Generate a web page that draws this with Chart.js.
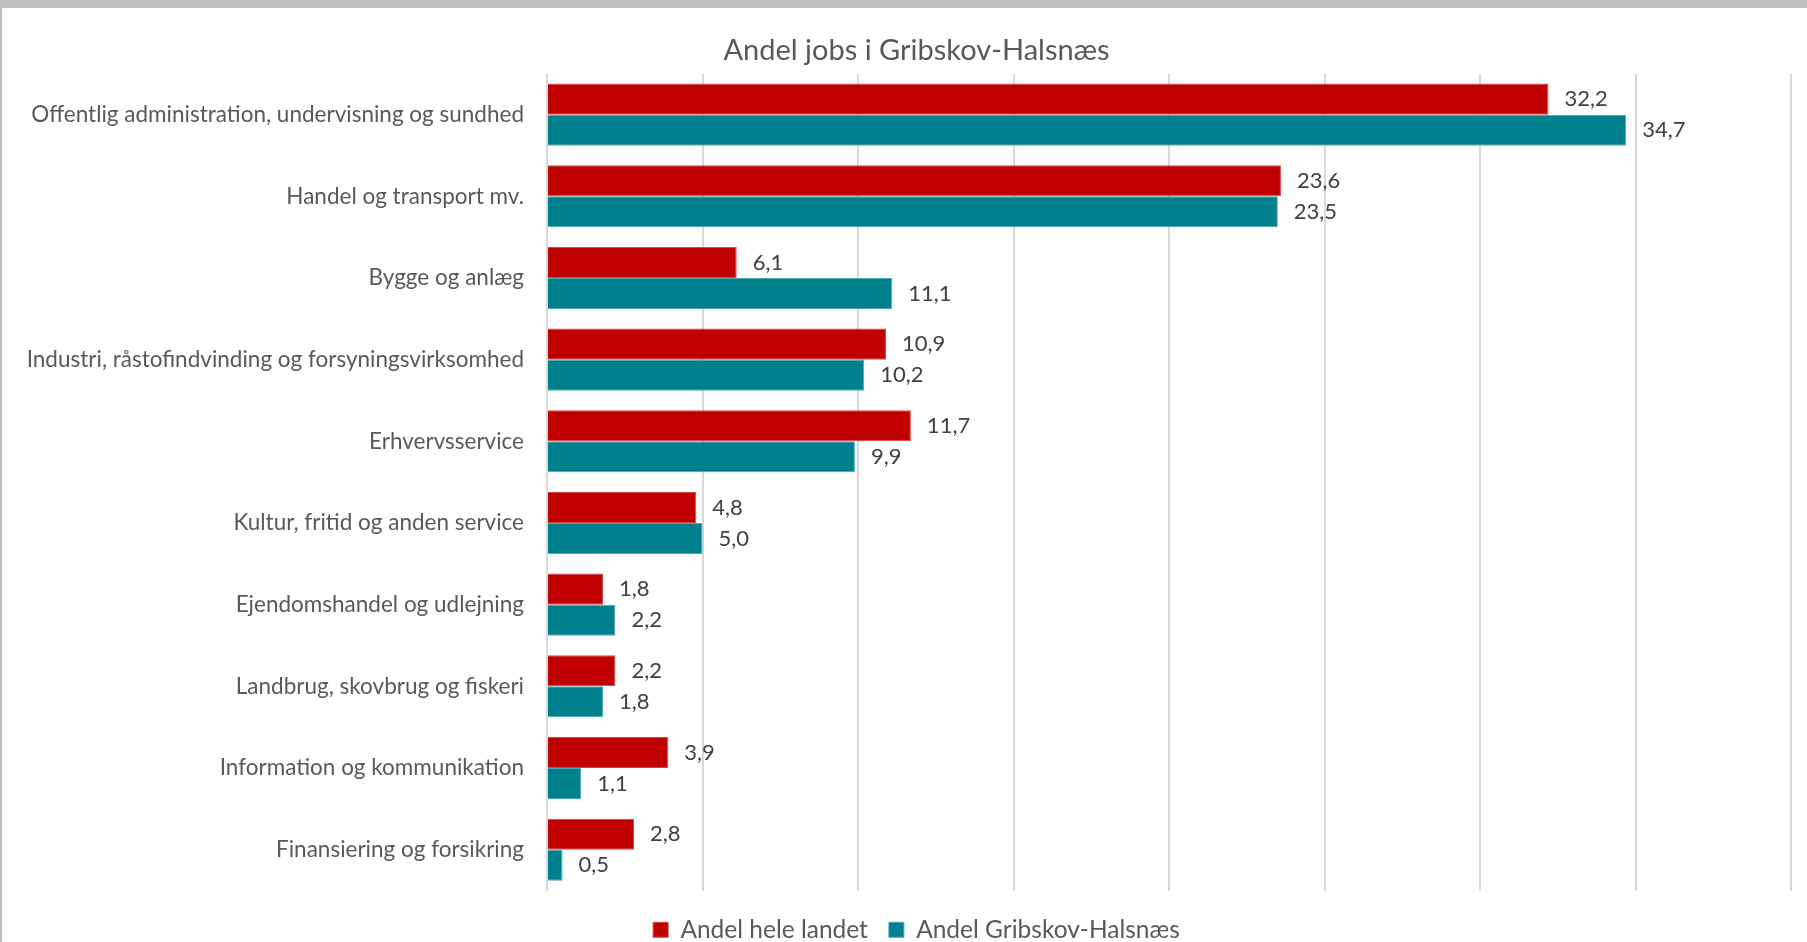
<!DOCTYPE html>
<html lang="da">
<head>
<meta charset="utf-8">
<title>Andel jobs i Gribskov-Halsnæs</title>
<script src="https://cdn.jsdelivr.net/npm/chart.js@4.4.1/dist/chart.umd.min.js"></script>
<style>
  html, body { margin: 0; padding: 0; background: #ffffff; overflow: hidden; }
  #top-band { position: absolute; left: 0; top: 0; width: 1807px; height: 8px; background: #bfbfbf; }
  #left-band { position: absolute; left: 0; top: 0; width: 2px; height: 942px; background: #bfbfbf; }
  #wrap { position: absolute; left: 0; top: 0; width: 1807px; height: 942px; }
</style>
</head>
<body>
<div id="top-band"></div>
<div id="left-band"></div>
<div id="wrap"><canvas id="jobs-chart"></canvas></div>
<script>
const RED = "#c00000";
const TEAL = "#007f8c";
const TEXT_COLOR = "#595959";
const LABEL_COLOR = "#404040";
const FONT = "Lato, 'Open Sans', sans-serif";

const categories = [
  "Offentlig administration, undervisning og sundhed",
  "Handel og transport mv.",
  "Bygge og anlæg",
  "Industri, råstofindvinding og forsyningsvirksomhed",
  "Erhvervsservice",
  "Kultur, fritid og anden service",
  "Ejendomshandel og udlejning",
  "Landbrug, skovbrug og fiskeri",
  "Information og kommunikation",
  "Finansiering og forsikring",
];
const heleLandet = [32.2, 23.6, 6.1, 10.9, 11.7, 4.8, 1.8, 2.2, 3.9, 2.8];
const gribskovHalsnaes = [34.7, 23.5, 11.1, 10.2, 9.9, 5.0, 2.2, 1.8, 1.1, 0.5];
const seriesNames = ["Andel hele landet", "Andel Gribskov-Halsnæs"];

// danish decimal comma
function fmt(v) {
  return v.toFixed(1).replace(".", ",");
}

// value labels to the right of each bar
const valueLabels = {
  id: "valueLabels",
  afterDatasetsDraw(chart) {
    const ctx = chart.ctx;
    ctx.save();
    ctx.font = "22px " + FONT;
    ctx.fillStyle = LABEL_COLOR;
    ctx.textAlign = "left";
    ctx.textBaseline = "middle";
    chart.data.datasets.forEach((ds, i) => {
      chart.getDatasetMeta(i).data.forEach((bar, j) => {
        ctx.fillText(fmt(ds.data[j]), bar.x + 16, bar.y);
      });
    });
    ctx.restore();
  },
};

const ctx = document.getElementById("jobs-chart").getContext("2d");
new Chart(ctx, {
  type: "bar",
  data: {
    labels: categories,
    datasets: [
      {
        label: seriesNames[0],
        data: heleLandet,
        backgroundColor: RED,
        borderColor: "#d64545",
        borderWidth: 1,
      },
      {
        label: seriesNames[1],
        data: gribskovHalsnaes,
        backgroundColor: TEAL,
        borderColor: "#4aa9b4",
        borderWidth: 1,
      },
    ],
  },
  options: {
    indexAxis: "y",
    responsive: true,
    maintainAspectRatio: false,
    animation: false,
    categoryPercentage: 0.76,
    barPercentage: 1.0,
    layout: {
      padding: { left: 26, right: 0, top: 0, bottom: -10 },
    },
    scales: {
      x: {
        min: 0,
        max: 40,
        ticks: { display: false, stepSize: 5 },
        grid: { color: "#d9d9d9", lineWidth: 2, drawTicks: false },
        border: { display: false },
        afterFit(scale) {
          scale.height = 6;
        },
      },
      y: {
        grid: { display: false, drawTicks: false },
        border: { display: false },
        ticks: {
          color: TEXT_COLOR,
          padding: 23,
          font: { family: FONT, size: 22.5 },
        },
        afterFit(scale) {
          scale.width = 521;
        },
      },
      // empty strip on the right so the last gridline sits inside the canvas
      yRight: {
        position: "right",
        grid: { display: false, drawTicks: false },
        border: { display: false },
        ticks: { display: false },
        afterFit(scale) {
          scale.width = 16;
        },
      },
    },
    plugins: {
      title: {
        display: true,
        text: "Andel jobs i Gribskov-Halsnæs",
        color: TEXT_COLOR,
        font: { family: FONT, size: 29, weight: "normal" },
        padding: { top: 33, bottom: 6 },
      },
      legend: {
        position: "bottom",
        labels: {
          color: TEXT_COLOR,
          boxWidth: 15,
          boxHeight: 15,
          padding: 21,
          font: { family: FONT, size: 24.5 },
        },
      },
      tooltip: { enabled: false },
    },
  },
  plugins: [valueLabels],
});
</script>
</body>
</html>
